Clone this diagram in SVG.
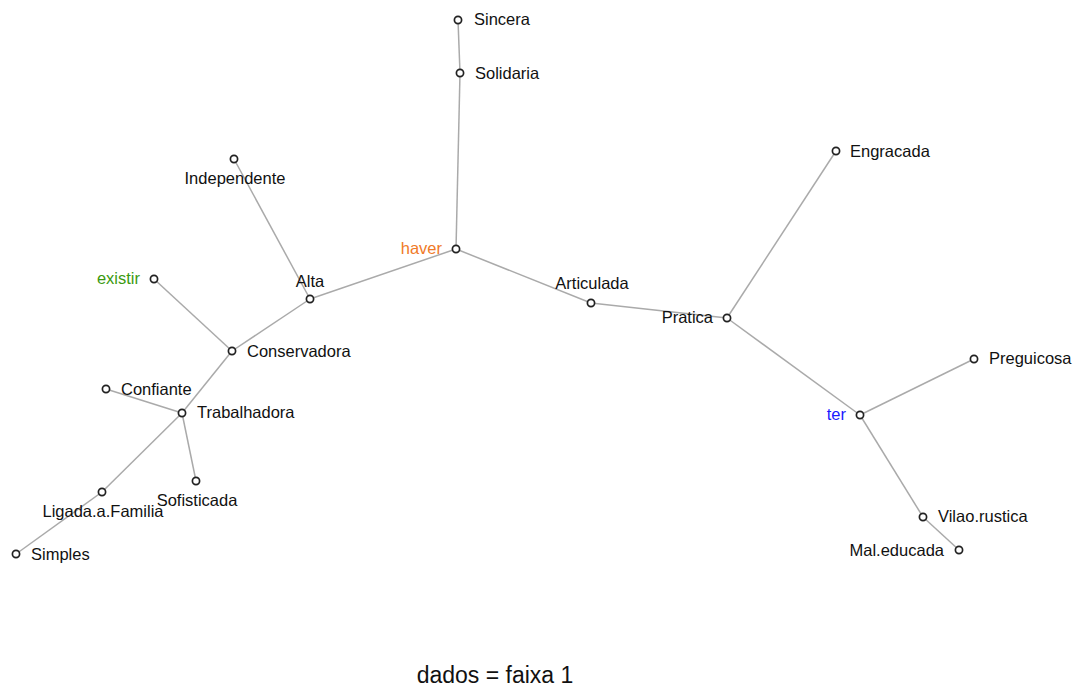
<svg xmlns="http://www.w3.org/2000/svg" width="1078" height="687" viewBox="0 0 1078 687">
<style>
.e{stroke:#aaaaaa;stroke-width:1.5;fill:none}
.n{fill:#ffffff;stroke:#222222;stroke-width:1.7}
text{font-family:"Liberation Sans",Arial,sans-serif;font-size:16.5px;fill:#111111}
.m{text-anchor:middle}
.r{text-anchor:end}
</style>
<rect width="1078" height="687" fill="#ffffff"/>
<g id="connectors">
<line class="e" x1="458" y1="20" x2="460" y2="73"/>
<line class="e" x1="460" y1="73" x2="456" y2="249"/>
<line class="e" x1="456" y1="249" x2="310" y2="299"/>
<line class="e" x1="456" y1="249" x2="591" y2="303"/>
<line class="e" x1="591" y1="303" x2="727" y2="318"/>
<line class="e" x1="727" y1="318" x2="836" y2="151"/>
<line class="e" x1="727" y1="318" x2="860" y2="415"/>
<line class="e" x1="860" y1="415" x2="974" y2="359"/>
<line class="e" x1="860" y1="415" x2="923" y2="517"/>
<line class="e" x1="923" y1="517" x2="959" y2="550"/>
<line class="e" x1="310" y1="299" x2="234" y2="159"/>
<line class="e" x1="310" y1="299" x2="232" y2="351"/>
<line class="e" x1="232" y1="351" x2="154" y2="279"/>
<line class="e" x1="232" y1="351" x2="182" y2="413"/>
<line class="e" x1="182" y1="413" x2="106" y2="389"/>
<line class="e" x1="182" y1="413" x2="196" y2="481"/>
<line class="e" x1="182" y1="413" x2="102" y2="492"/>
<line class="e" x1="102" y1="492" x2="16" y2="554"/>
</g>
<g id="Sincera"><circle class="n" cx="458" cy="20" r="3.6"/><text x="474" y="25">Sincera</text></g>
<g id="Solidaria"><circle class="n" cx="460" cy="73" r="3.6"/><text x="475" y="79">Solidaria</text></g>
<g id="haver"><circle class="n" cx="456" cy="249" r="3.6"/><text class="r" x="442" y="254" style="fill:#f07a28">haver</text></g>
<g id="Articulada"><circle class="n" cx="591" cy="303" r="3.6"/><text class="m" x="592" y="289">Articulada</text></g>
<g id="Pratica"><circle class="n" cx="727" cy="318" r="3.6"/><text class="r" x="713" y="323">Pratica</text></g>
<g id="Engracada"><circle class="n" cx="836" cy="151" r="3.6"/><text x="850" y="157">Engracada</text></g>
<g id="ter"><circle class="n" cx="860" cy="415" r="3.6"/><text class="r" x="846" y="420" style="fill:#1a1aff">ter</text></g>
<g id="Preguicosa"><circle class="n" cx="974" cy="359" r="3.6"/><text x="989" y="364">Preguicosa</text></g>
<g id="Vilao.rustica"><circle class="n" cx="923" cy="517" r="3.6"/><text x="938" y="522">Vilao.rustica</text></g>
<g id="Mal.educada"><circle class="n" cx="959" cy="550" r="3.6"/><text class="r" x="944" y="556">Mal.educada</text></g>
<g id="Alta"><circle class="n" cx="310" cy="299" r="3.6"/><text class="m" x="310" y="287">Alta</text></g>
<g id="Independente"><circle class="n" cx="234" cy="159" r="3.6"/><text class="m" x="235" y="184">Independente</text></g>
<g id="Conservadora"><circle class="n" cx="232" cy="351" r="3.6"/><text x="247" y="357">Conservadora</text></g>
<g id="existir"><circle class="n" cx="154" cy="279" r="3.6"/><text class="r" x="140" y="284" style="fill:#3c9a10">existir</text></g>
<g id="Trabalhadora"><circle class="n" cx="182" cy="413" r="3.6"/><text x="197" y="418">Trabalhadora</text></g>
<g id="Confiante"><circle class="n" cx="106" cy="389" r="3.6"/><text x="121" y="395">Confiante</text></g>
<g id="Sofisticada"><circle class="n" cx="196" cy="481" r="3.6"/><text class="m" x="197" y="506">Sofisticada</text></g>
<g id="Ligada.a.Familia"><circle class="n" cx="102" cy="492" r="3.6"/><text class="m" x="103" y="517">Ligada.a.Familia</text></g>
<g id="Simples"><circle class="n" cx="16" cy="554" r="3.6"/><text x="31" y="560">Simples</text></g>
<text class="m" x="495" y="683" style="font-size:23px">dados = faixa 1</text>
</svg>
